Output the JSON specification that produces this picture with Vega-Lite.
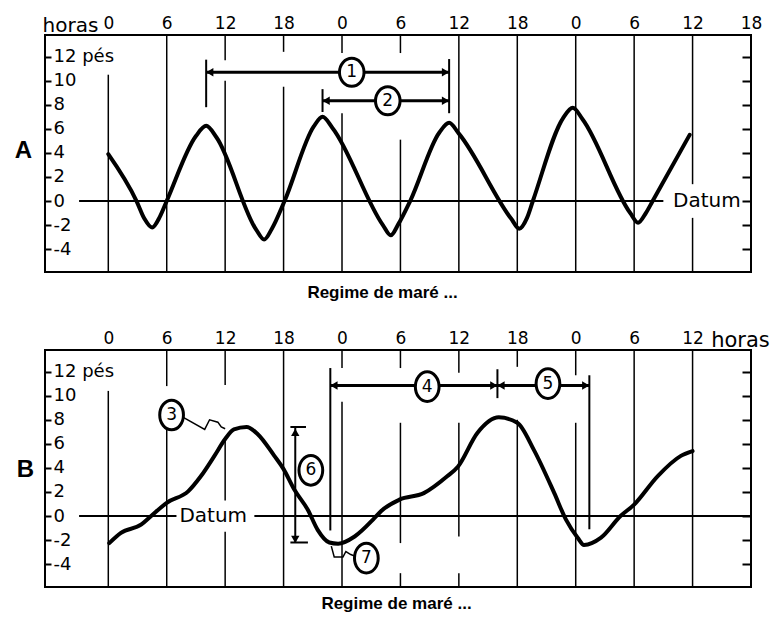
{
  "$schema": "https://vega.github.io/schema/vega-lite/v6.json",
  "background": "white",
  "padding": {"left": 13, "top": 13, "right": 2, "bottom": 2},
  "bounds": "flush",
  "spacing": 78,
  "config": {
    "view": {"stroke": "black", "strokeWidth": 2},
    "font": "DejaVu Sans",
    "axis": {"labelColor": "black", "titleColor": "black", "tickColor": "black"}
  },
  "datasets": {
    "curveA": [
      {"h": 0, "ft": 3.9}, {"h": 2.9, "ft": 0}, {"h": 3.7, "ft": -1.45}, {"h": 4.5, "ft": -2.2}, {"h": 5.3, "ft": -1.3}, {"h": 6.0, "ft": 0},
      {"h": 9.0, "ft": 5.4}, {"h": 10.05, "ft": 6.25}, {"h": 11.1, "ft": 5.3},
      {"h": 15.2, "ft": -2.4}, {"h": 16.0, "ft": -3.2}, {"h": 16.8, "ft": -2.3}, {"h": 18.1, "ft": 0},
      {"h": 21.1, "ft": 6.2}, {"h": 22.0, "ft": 7.0}, {"h": 23.0, "ft": 6.1},
      {"h": 28.2, "ft": -2.0}, {"h": 29.0, "ft": -2.85}, {"h": 29.8, "ft": -1.9}, {"h": 31.0, "ft": 0},
      {"h": 34.0, "ft": 5.7}, {"h": 35.0, "ft": 6.5}, {"h": 36.0, "ft": 5.6},
      {"h": 41.4, "ft": -1.5}, {"h": 42.2, "ft": -2.3}, {"h": 43.0, "ft": -1.4}, {"h": 43.6, "ft": 0},
      {"h": 46.7, "ft": 6.9}, {"h": 47.7, "ft": 7.75}, {"h": 48.7, "ft": 6.8},
      {"h": 53.6, "ft": -1.0}, {"h": 54.4, "ft": -1.8}, {"h": 55.2, "ft": -1.0}, {"h": 55.9, "ft": 0},
      {"h": 59.7, "ft": 5.5}
    ],
    "curveB": [
      {"h": 0.1, "ft": -2.25}, {"h": 1.3, "ft": -1.4}, {"h": 3.4, "ft": -0.7}, {"h": 4.4, "ft": 0},
      {"h": 6.0, "ft": 1.1}, {"h": 8.2, "ft": 2.05}, {"h": 9.5, "ft": 3.3}, {"h": 10.9, "ft": 5.0},
      {"h": 12.0, "ft": 6.4}, {"h": 12.9, "ft": 7.2}, {"h": 14.2, "ft": 7.4}, {"h": 15.35, "ft": 6.8},
      {"h": 17.05, "ft": 5.0}, {"h": 18.0, "ft": 3.9}, {"h": 19.1, "ft": 2.2}, {"h": 20.5, "ft": 0.5},
      {"h": 21.5, "ft": -1.15}, {"h": 22.7, "ft": -2.2}, {"h": 23.6, "ft": -2.3}, {"h": 25.3, "ft": -1.7},
      {"h": 27.3, "ft": -0.2}, {"h": 28.0, "ft": 0.4}, {"h": 29.9, "ft": 1.36}, {"h": 32.4, "ft": 1.9},
      {"h": 34.8, "ft": 3.3}, {"h": 35.9, "ft": 4.1}, {"h": 37.9, "ft": 6.9}, {"h": 40.1, "ft": 8.2},
      {"h": 42.0, "ft": 7.75}, {"h": 43.7, "ft": 5.5}, {"h": 45.8, "ft": 1.9}, {"h": 47.0, "ft": -0.3},
      {"h": 48.2, "ft": -1.8}, {"h": 48.85, "ft": -2.4}, {"h": 50.6, "ft": -1.8}, {"h": 52.6, "ft": 0},
      {"h": 54.0, "ft": 0.95}, {"h": 56.4, "ft": 3.3}, {"h": 58.8, "ft": 5.0}, {"h": 60.0, "ft": 5.4}
    ],
    "gridA": [
      {"h": 0, "ft": 10.5, "ft2": -5.9},
      {"h": 6, "ft": 13.8, "ft2": -5.9},
      {"h": 12, "ft": 13.8, "ft2": 11.7}, {"h": 12, "ft": 10.0, "ft2": -5.9},
      {"h": 18, "ft": 13.8, "ft2": 12.4}, {"h": 18, "ft": 9.5, "ft2": -5.9},
      {"h": 24, "ft": 13.8, "ft2": 12.3}, {"h": 24, "ft": 7.3, "ft2": -5.9},
      {"h": 30, "ft": 13.8, "ft2": 12.3}, {"h": 30, "ft": 5.1, "ft2": -5.9},
      {"h": 36, "ft": 13.8, "ft2": -5.9},
      {"h": 42, "ft": 13.8, "ft2": -5.9},
      {"h": 48, "ft": 13.8, "ft2": -5.9},
      {"h": 54, "ft": 13.8, "ft2": -5.9},
      {"h": 60, "ft": 13.8, "ft2": 1.4}, {"h": 60, "ft": -1.4, "ft2": -5.9}
    ],
    "gridB": [
      {"h": 0, "ft": 10.4, "ft2": -5.9},
      {"h": 6, "ft": 13.8, "ft2": 10.8}, {"h": 6, "ft": 9.5, "ft2": -5.9},
      {"h": 12, "ft": 13.8, "ft2": 10.9}, {"h": 12, "ft": 6.4, "ft2": 1.3}, {"h": 12, "ft": -1.3, "ft2": -5.9},
      {"h": 18, "ft": 13.8, "ft2": -5.9},
      {"h": 24, "ft": 13.8, "ft2": 12.3}, {"h": 24, "ft": 9.5, "ft2": -5.9},
      {"h": 30, "ft": 13.8, "ft2": 12.3}, {"h": 30, "ft": 7.75, "ft2": -2.25}, {"h": 30, "ft": -4.75, "ft2": -5.9},
      {"h": 36, "ft": 13.8, "ft2": 11.9}, {"h": 36, "ft": 7.75, "ft2": -1.7}, {"h": 36, "ft": -4.75, "ft2": -5.9},
      {"h": 42, "ft": 13.8, "ft2": 12.4}, {"h": 42, "ft": 8.0, "ft2": -5.9},
      {"h": 48, "ft": 13.8, "ft2": 11.7}, {"h": 48, "ft": 7.75, "ft2": -5.9},
      {"h": 54, "ft": 13.8, "ft2": -5.9},
      {"h": 60, "ft": 13.8, "ft2": -5.9}
    ],
    "datumA": [{"h": -3.0, "h2": 57.0, "ft": 0}],
    "datumB": [{"h": -3.0, "h2": 7.0, "ft": 0}, {"h": 15.0, "h2": 66, "ft": 0}],
    "datumTextA": [{"h": 58.0, "ft": 0, "t": "Datum"}],
    "datumTextB": [{"h": 7.3, "ft": 0, "t": "Datum"}],
    "vticksA": [
      {"h": 10.05, "ft": 11.75, "ft2": 7.8},
      {"h": 22.0, "ft": 9.3, "ft2": 7.4},
      {"h": 35.0, "ft": 11.8, "ft2": 7.3}
    ],
    "vticksB": [
      {"h": 22.8, "ft": 12.3, "ft2": -1.2},
      {"h": 39.96, "ft": 12.2, "ft2": 9.8},
      {"h": 49.4, "ft": 11.7, "ft2": -1.1},
      {"h": 19.2, "ft": 7.4, "ft2": -2.2}
    ],
    "capsB": [
      {"h": 18.7, "h2": 20.3, "ft": 7.4},
      {"h": 18.7, "h2": 20.5, "ft": -2.2}
    ],
    "arrowsA": [
      {"h": 10.05, "h2": 35.0, "ft": 10.7},
      {"h": 22.0, "h2": 35.0, "ft": 8.33}
    ],
    "arrowsB": [
      {"h": 22.8, "h2": 39.96, "ft": 10.85},
      {"h": 39.96, "h2": 49.4, "ft": 10.85}
    ],
    "headsA": [
      {"h": 10.42, "ft": 10.7, "dir": "L"}, {"h": 34.63, "ft": 10.7, "dir": "R"},
      {"h": 22.37, "ft": 8.33, "dir": "L"}, {"h": 34.63, "ft": 8.33, "dir": "R"}
    ],
    "headsB": [
      {"h": 23.17, "ft": 10.85, "dir": "L"}, {"h": 39.59, "ft": 10.85, "dir": "R"},
      {"h": 40.33, "ft": 10.85, "dir": "L"}, {"h": 49.03, "ft": 10.85, "dir": "R"},
      {"h": 19.2, "ft": 6.95, "dir": "U"}, {"h": 19.2, "ft": -1.95, "dir": "D"}
    ],
    "leadersB": [
      {"g": "3", "h": 7.7, "ft": 8.2}, {"g": "3", "h": 9.9, "ft": 7.2}, {"g": "3", "h": 10.4, "ft": 8.0},
      {"g": "3", "h": 11.25, "ft": 7.8}, {"g": "3", "h": 11.6, "ft": 7.4}, {"g": "3", "h": 12.0, "ft": 7.25},
      {"g": "7", "h": 22.9, "ft": -2.5}, {"g": "7", "h": 23.2, "ft": -3.4}, {"g": "7", "h": 24.1, "ft": -3.4},
      {"g": "7", "h": 24.4, "ft": -2.95}, {"g": "7", "h": 24.9, "ft": -3.2}, {"g": "7", "h": 25.5, "ft": -3.4}
    ],
    "circlesA": [
      {"h": 25.0, "ft": 10.7, "n": "1"},
      {"h": 28.7, "ft": 8.33, "n": "2"}
    ],
    "circlesB": [
      {"h": 6.5, "ft": 8.4, "n": "3"},
      {"h": 32.75, "ft": 10.75, "n": "4"},
      {"h": 45.15, "ft": 11.0, "n": "5"},
      {"h": 20.8, "ft": 3.8, "n": "6"},
      {"h": 26.5, "ft": -3.5, "n": "7"}
    ]
  },
  "vconcat": [
    {
      "width": 706,
      "height": 237,
      "resolve": {"axis": {"x": "independent", "y": "independent"}},
      "encoding": {
        "x": {"field": "h", "type": "quantitative", "scale": {"domain": [-6.5, 66], "nice": false, "zero": false}, "axis": null},
        "y": {"field": "ft", "type": "quantitative", "scale": {"domain": [-5.9, 13.8], "nice": false, "zero": false}, "axis": null}
      },
      "layer": [
        {
          "data": {"name": "gridA"},
          "mark": {"type": "rule", "color": "black", "strokeWidth": 1.5},
          "encoding": {"y2": {"field": "ft2"}}
        },
        {
          "data": {"name": "datumA"},
          "mark": {"type": "rule", "color": "black", "strokeWidth": 1.8},
          "encoding": {
            "x": {"field": "h", "type": "quantitative", "scale": {"domain": [-6.5, 66], "nice": false, "zero": false},
              "axis": {"orient": "bottom", "labels": false, "ticks": false, "domain": false, "grid": false,
                "title": "Regime de maré ...", "titleX": 337, "titleY": 12, "titleAlign": "center", "titleBaseline": "top",
                "titleFont": "Liberation Sans", "titleFontWeight": "bold", "titleFontSize": 17}},
            "x2": {"field": "h2"},
            "y": {"field": "ft", "type": "quantitative", "scale": {"domain": [-5.9, 13.8], "nice": false, "zero": false},
              "axis": {"orient": "right", "values": [-4, -2, 0, 2, 4, 6, 8, 10, 12], "tickSize": -9, "tickWidth": 2,
                "labels": false, "domain": false, "grid": false, "title": null}}
          }
        },
        {
          "data": {"name": "curveA"},
          "mark": {"type": "line", "interpolate": "monotone", "color": "black", "strokeWidth": 4, "strokeCap": "round"},
          "encoding": {
            "x": {"field": "h", "type": "quantitative", "scale": {"domain": [-6.5, 66], "nice": false, "zero": false},
              "axis": {"orient": "top", "values": [0, 6, 12, 18, 24, 30, 36, 42, 48, 54, 60, 66],
                "labelExpr": "'' + (datum.value % 24)", "ticks": false, "domain": false, "grid": false,
                "labelPadding": 3, "labelFontSize": 17, "labelFont": "DejaVu Sans", "labelFlush": false, "labelOverlap": false,
                "title": "horas", "titleX": 25, "titleY": -4, "titleAlign": "center", "titleBaseline": "alphabetic",
                "titleFont": "DejaVu Sans", "titleFontWeight": "normal", "titleFontSize": 20}},
            "y": {"field": "ft", "type": "quantitative", "scale": {"domain": [-5.9, 13.8], "nice": false, "zero": false},
              "axis": {"orient": "left", "values": [-4, -2, 0, 2, 4, 6, 8, 10, 12],
                "labelExpr": "datum.value == 12 ? '12 pés' : (datum.value < 0 ? '-' + abs(datum.value) : '' + datum.value)",
                "tickSize": -6, "tickWidth": 2, "domain": false, "grid": false,
                "labelAlign": "left", "labelBaseline": "middle", "labelPadding": -2, "labelFontSize": 18,
                "labelFont": "DejaVu Sans", "labelFlush": false, "labelOverlap": false,
                "title": "A", "titleAngle": 0, "titleX": -22, "titleY": 115, "titleAlign": "center", "titleBaseline": "middle",
                "titleFont": "Liberation Sans", "titleFontWeight": "bold", "titleFontSize": 24}}
          }
        },
        {
          "data": {"name": "vticksA"},
          "mark": {"type": "rule", "color": "black", "strokeWidth": 2},
          "encoding": {"y2": {"field": "ft2"}}
        },
        {
          "data": {"name": "arrowsA"},
          "mark": {"type": "rule", "color": "black", "strokeWidth": 3},
          "encoding": {"x2": {"field": "h2"}}
        },
        {
          "data": {"name": "headsA"},
          "mark": {"type": "point", "filled": true, "color": "black", "size": 70, "opacity": 1},
          "encoding": {
            "shape": {"field": "dir", "type": "nominal", "legend": null,
              "scale": {"domain": ["L", "R", "U", "D"], "range": ["triangle-left", "triangle-right", "triangle-up", "triangle-down"]}}
          }
        },
        {
          "data": {"name": "circlesA"},
          "mark": {"type": "point", "shape": "M0,-1A0.88,1 0 1,1 0,1A0.88,1 0 1,1 0,-1Z", "size": 780,
            "fill": "white", "fillOpacity": 1, "stroke": "black", "strokeWidth": 3, "opacity": 1}
        },
        {
          "data": {"name": "circlesA"},
          "mark": {"type": "text", "font": "DejaVu Sans", "fontSize": 17, "color": "black", "align": "center", "baseline": "middle"},
          "encoding": {"text": {"field": "n"}}
        },
        {
          "data": {"name": "datumTextA"},
          "mark": {"type": "text", "font": "DejaVu Sans", "fontSize": 20, "color": "black", "align": "left", "baseline": "middle"},
          "encoding": {"text": {"field": "t"}}
        }
      ]
    },
    {
      "width": 706,
      "height": 237,
      "resolve": {"axis": {"x": "independent", "y": "independent"}},
      "encoding": {
        "x": {"field": "h", "type": "quantitative", "scale": {"domain": [-6.5, 66], "nice": false, "zero": false}, "axis": null},
        "y": {"field": "ft", "type": "quantitative", "scale": {"domain": [-5.9, 13.8], "nice": false, "zero": false}, "axis": null}
      },
      "layer": [
        {
          "data": {"name": "gridB"},
          "mark": {"type": "rule", "color": "black", "strokeWidth": 1.5},
          "encoding": {"y2": {"field": "ft2"}}
        },
        {
          "data": {"name": "datumB"},
          "mark": {"type": "rule", "color": "black", "strokeWidth": 1.8},
          "encoding": {
            "x": {"field": "h", "type": "quantitative", "scale": {"domain": [-6.5, 66], "nice": false, "zero": false},
              "axis": {"orient": "bottom", "labels": false, "ticks": false, "domain": false, "grid": false,
                "title": "Regime de maré ...", "titleX": 351, "titleY": 8, "titleAlign": "center", "titleBaseline": "top",
                "titleFont": "Liberation Sans", "titleFontWeight": "bold", "titleFontSize": 17}},
            "x2": {"field": "h2"},
            "y": {"field": "ft", "type": "quantitative", "scale": {"domain": [-5.9, 13.8], "nice": false, "zero": false},
              "axis": {"orient": "right", "values": [-4, -2, 0, 2, 4, 6, 8, 10, 12], "tickSize": -9, "tickWidth": 2,
                "labels": false, "domain": false, "grid": false, "title": null}}
          }
        },
        {
          "data": {"name": "curveB"},
          "mark": {"type": "line", "interpolate": "monotone", "color": "black", "strokeWidth": 4, "strokeCap": "round"},
          "encoding": {
            "x": {"field": "h", "type": "quantitative", "scale": {"domain": [-6.5, 66], "nice": false, "zero": false},
              "axis": {"orient": "top", "values": [0, 6, 12, 18, 24, 30, 36, 42, 48, 54, 60],
                "labelExpr": "'' + (datum.value % 24)", "ticks": false, "domain": false, "grid": false,
                "labelPadding": 3, "labelFontSize": 17, "labelFont": "DejaVu Sans", "labelFlush": false, "labelOverlap": false,
                "title": "horas", "titleX": 695, "titleY": -4, "titleAlign": "center", "titleBaseline": "alphabetic",
                "titleFont": "DejaVu Sans", "titleFontWeight": "normal", "titleFontSize": 21}},
            "y": {"field": "ft", "type": "quantitative", "scale": {"domain": [-5.9, 13.8], "nice": false, "zero": false},
              "axis": {"orient": "left", "values": [-4, -2, 0, 2, 4, 6, 8, 10, 12],
                "labelExpr": "datum.value == 12 ? '12 pés' : (datum.value < 0 ? '-' + abs(datum.value) : '' + datum.value)",
                "tickSize": -6, "tickWidth": 2, "domain": false, "grid": false,
                "labelAlign": "left", "labelBaseline": "middle", "labelPadding": -2, "labelFontSize": 18,
                "labelFont": "DejaVu Sans", "labelFlush": false, "labelOverlap": false,
                "title": "B", "titleAngle": 0, "titleX": -20, "titleY": 119, "titleAlign": "center", "titleBaseline": "middle",
                "titleFont": "Liberation Sans", "titleFontWeight": "bold", "titleFontSize": 24}}
          }
        },
        {
          "data": {"name": "vticksB"},
          "mark": {"type": "rule", "color": "black", "strokeWidth": 2},
          "encoding": {"y2": {"field": "ft2"}}
        },
        {
          "data": {"name": "capsB"},
          "mark": {"type": "rule", "color": "black", "strokeWidth": 2},
          "encoding": {"x2": {"field": "h2"}}
        },
        {
          "data": {"name": "arrowsB"},
          "mark": {"type": "rule", "color": "black", "strokeWidth": 3},
          "encoding": {"x2": {"field": "h2"}}
        },
        {
          "data": {"name": "leadersB"},
          "mark": {"type": "line", "color": "black", "strokeWidth": 1.5},
          "encoding": {"detail": {"field": "g"}}
        },
        {
          "data": {"name": "headsB"},
          "mark": {"type": "point", "filled": true, "color": "black", "size": 70, "opacity": 1},
          "encoding": {
            "shape": {"field": "dir", "type": "nominal", "legend": null,
              "scale": {"domain": ["L", "R", "U", "D"], "range": ["triangle-left", "triangle-right", "triangle-up", "triangle-down"]}}
          }
        },
        {
          "data": {"name": "circlesB"},
          "mark": {"type": "point", "shape": "M0,-1A0.8,1 0 1,1 0,1A0.8,1 0 1,1 0,-1Z", "size": 880,
            "fill": "white", "fillOpacity": 1, "stroke": "black", "strokeWidth": 3, "opacity": 1}
        },
        {
          "data": {"name": "circlesB"},
          "mark": {"type": "text", "font": "DejaVu Sans", "fontSize": 17, "color": "black", "align": "center", "baseline": "middle"},
          "encoding": {"text": {"field": "n"}}
        },
        {
          "data": {"name": "datumTextB"},
          "mark": {"type": "text", "font": "DejaVu Sans", "fontSize": 20, "color": "black", "align": "left", "baseline": "middle"},
          "encoding": {"text": {"field": "t"}}
        }
      ]
    }
  ]
}
